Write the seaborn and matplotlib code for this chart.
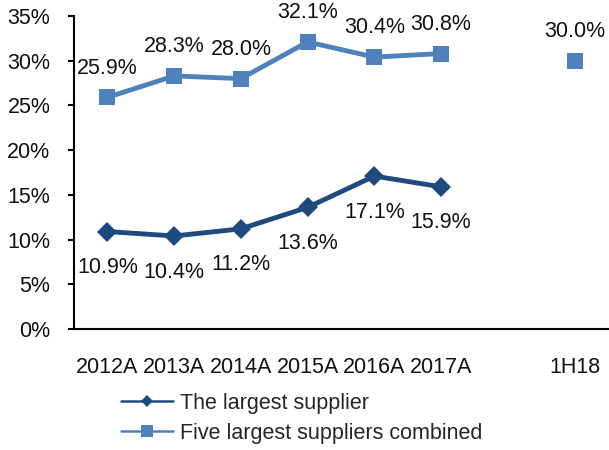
import matplotlib
matplotlib.use("Agg")
import matplotlib.pyplot as plt
from matplotlib.lines import Line2D
import numpy as np
import pandas as pd
import seaborn as sns

categories = ["2012A", "2013A", "2014A", "2015A", "2016A", "2017A", "", "1H18"]
largest_cats = ["2012A", "2013A", "2014A", "2015A", "2016A", "2017A"]
largest_vals = [10.9, 10.4, 11.2, 13.6, 17.1, 15.9]
five_cats = ["2012A", "2013A", "2014A", "2015A", "2016A", "2017A"]
five_vals = [25.9, 28.3, 28.0, 32.1, 30.4, 30.8]
five_h1_cat = ["1H18"]
five_h1_val = [30.0]
y_ticks = [0, 5, 10, 15, 20, 25, 30, 35]

DARK = "#1F4A7E"
LIGHT = "#4F81BD"
FS = 15.5

sns.set_theme(style="white")
plt.rcParams["font.family"] = ["Liberation Sans", "DejaVu Sans"]

pos = {c: i for i, c in enumerate(categories)}
df_l = pd.DataFrame({"x": [pos[c] for c in largest_cats], "y": largest_vals})
df_f = pd.DataFrame({"x": [pos[c] for c in five_cats], "y": five_vals})
df_h = pd.DataFrame({"x": [pos[c] for c in five_h1_cat], "y": five_h1_val})

fig = plt.figure(figsize=(6.09, 4.5), dpi=100)
ax = fig.add_axes([74 / 609, 1 - 329 / 450, 534 / 609, 313 / 450])

sns.lineplot(data=df_l, x="x", y="y", ax=ax, color=DARK, lw=3.5, marker="D",
             markersize=10.5, markeredgewidth=0, legend=False)
sns.lineplot(data=df_f, x="x", y="y", ax=ax, color=LIGHT, lw=3.5, marker="s",
             markersize=12, markeredgewidth=0, legend=False)
sns.scatterplot(data=df_h, x="x", y="y", ax=ax, color=LIGHT, marker="s",
                s=144, linewidth=0, legend=False)

for x, y in zip(df_l["x"], df_l["y"]):
    ax.annotate(f"{y:.1f}%", (x, y), xytext=(0, -26), textcoords="offset points",
                ha="center", va="center", fontsize=FS, color="#111111")
for x, y in list(zip(df_f["x"], df_f["y"])) + list(zip(df_h["x"], df_h["y"])):
    ax.annotate(f"{y:.1f}%", (x, y), xytext=(0, 21), textcoords="offset points",
                ha="center", va="center", fontsize=FS, color="#111111")

ax.set_xlim(-0.5, 7.5)
ax.set_ylim(0, 35)
ax.set_yticks(y_ticks)
ax.set_yticklabels([f"{v}%" for v in y_ticks], fontsize=FS)
ax.set_xticks(range(len(categories)))
ax.set_xticklabels(categories, fontsize=FS)
ax.set_xticks(np.arange(0.5, 8, 1), minor=True)
ax.tick_params(axis="x", which="major", length=0, pad=20, colors="#111111")
ax.tick_params(axis="x", which="minor", length=6, width=1.5, direction="in", color="black")
ax.tick_params(axis="y", length=4, width=1.5, direction="out", pad=13, colors="#111111",
               left=True, color="black")
ax.set_xlabel("")
ax.set_ylabel("")
for s in ["top", "right"]:
    ax.spines[s].set_visible(False)
for s in ["left", "bottom"]:
    ax.spines[s].set_color("black")
    ax.spines[s].set_linewidth(1.5)

handles = [
    Line2D([], [], color=DARK, lw=1.8, marker="D", markersize=6.5, markeredgewidth=0),
    Line2D([], [], color=LIGHT, lw=1.8, marker="s", markersize=8, markeredgewidth=0),
]
fig.legend(handles, ["The largest supplier", "Five largest suppliers combined"],
           loc="upper left", bbox_to_anchor=(121 / 609, 1 - 393 / 450), frameon=False,
           fontsize=FS, handlelength=2.4, handletextpad=0.35, labelspacing=0.4,
           borderaxespad=0, borderpad=0)

fig.savefig("out.png", dpi=100)
